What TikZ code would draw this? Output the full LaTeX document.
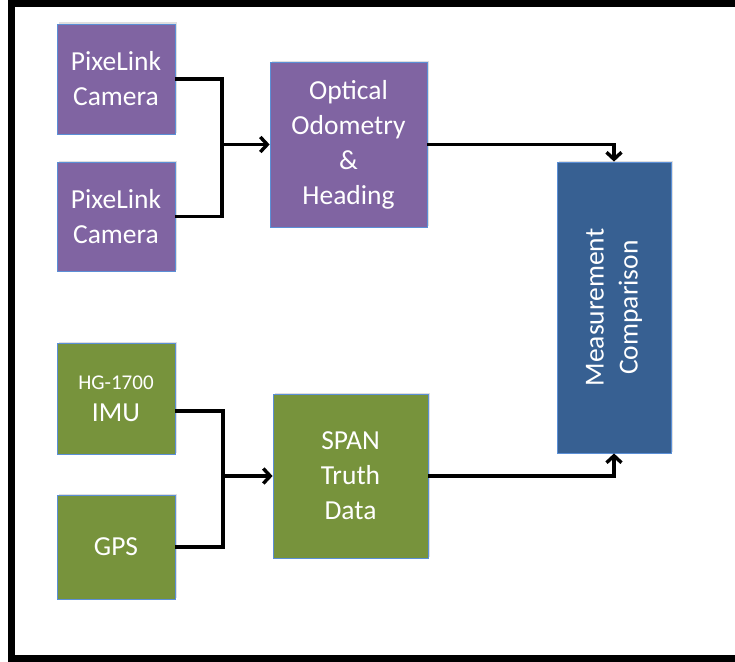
\documentclass[tikz,border=0pt]{standalone}
\usepackage{fontspec}
\setmainfont{Carlito}
\usetikzlibrary{arrows.meta,shadows}
\definecolor{boxpurple}{HTML}{8064A2}
\definecolor{boxgreen}{HTML}{77933C}
\definecolor{boxblue}{HTML}{376092}
\definecolor{boxedge}{HTML}{5B8FD6}
\tikzset{
  blk/.style={draw=boxedge, line width=0.8pt, text=white, align=center,
    inner sep=0pt, font=\fontsize{27.5}{35}\selectfont,
    drop shadow={opacity=0.25, shadow xshift=1.5pt, shadow yshift=1.5pt}},
  conn/.style={draw=black, line width=3.6pt},
  arr/.style={conn, -{Straight Barb[length=7pt,width=15pt,line width=3.4pt]}}
}
\begin{document}
\begin{tikzpicture}[x=1pt,y=-1pt]
\useasboundingbox (0,0) rectangle (735,661);
\begin{scope}
\clip (0,0) rectangle (735,661);
\fill[white] (0,0) rectangle (735,661);
\draw[line width=7pt] (745,3.5) -- (11.5,3.5) -- (11.5,658) -- (745,658);
\end{scope}
% boxes
\node[blk, fill=boxpurple, minimum width=118pt, minimum height=110pt] (cam1) at (116,79) {PixeLink\\Camera};
\node[blk, fill=boxpurple, minimum width=118pt, minimum height=109pt] (cam2) at (116,216.5) {PixeLink\\Camera};
\node[blk, fill=boxpurple, minimum width=157pt, minimum height=165pt] (opt) at (348.5,144.5) {Optical\\Odometry\\\&\\Heading};
\node[blk, fill=boxgreen, minimum width=118pt, minimum height=111pt] (imu) at (116,398.5) {{\fontsize{21}{24}\selectfont HG-1700}\\[-3pt]IMU};
\node[blk, fill=boxgreen, minimum width=118pt, minimum height=104pt] (gps) at (116,547) {GPS};
\node[blk, fill=boxgreen, minimum width=155pt, minimum height=164pt] (span) at (350.5,476) {SPAN\\Truth\\Data};
\node[blk, fill=boxblue, minimum width=114pt, minimum height=291pt] (meas) at (614,307.5) {};
\node[text=white, align=center, rotate=90, font=\fontsize{27.5}{34}\selectfont] (meastext) at (meas.center) {Measurement\\Comparison};
% junctions
\coordinate (j1) at (222,144.5);
\coordinate (j2) at (223,476);
\coordinate (imuout) at (175,411);
% connectors
\draw[conn] (cam1.east) -| (j1) |- (cam2.east);
\draw[arr] (j1) -- (opt.west);
\draw[conn] (imuout) -| (j2) |- (gps.east);
\draw[arr] (j2) -- (span.west);
\draw[arr] (opt.east) -| (meas.north);
\draw[arr] (span.east) -| (meas.south);
\end{tikzpicture}
\end{document}
